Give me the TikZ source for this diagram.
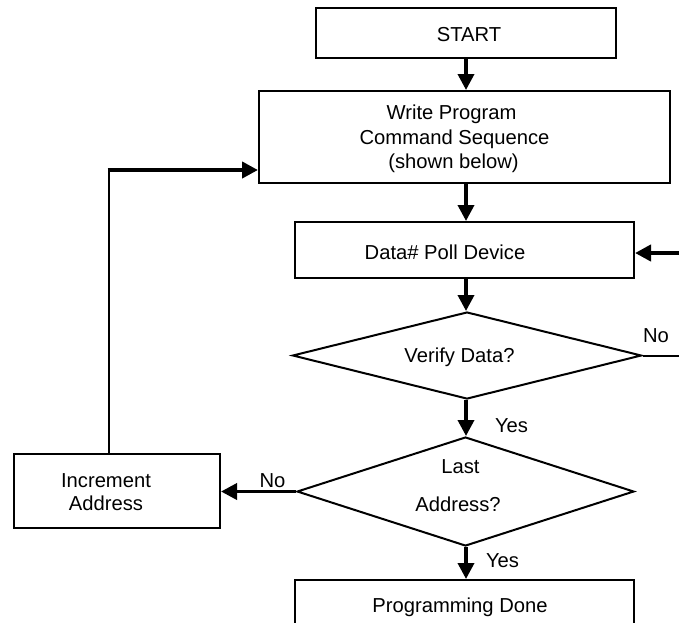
\documentclass[tikz,border=0pt]{standalone}
\usepackage{fontspec}
\setmainfont{Liberation Sans}
\usetikzlibrary{shapes.geometric,arrows.meta}
\begin{document}
\begin{tikzpicture}[x=1pt,y=-1pt,
  box/.style={draw=black, line width=2pt, rectangle, inner sep=0pt},
  dia/.style={draw=black, line width=2pt, diamond, inner sep=0pt},
  lbl/.style={anchor=base, inner sep=0pt, font=\fontsize{20.2}{24}\selectfont},
  arr/.style={line width=3.6pt, -{Triangle[length=16pt,width=16pt]}},
  arrthick/.style={line width=4.4pt, -{Triangle[length=16pt,width=16pt]}},
  conn/.style={line width=2pt},
  conn2/.style={line width=2.6pt}]
\clip (0,0) rectangle (679,622);
\fill[white] (0,0) rectangle (679,622);

% shapes
\node[box, minimum width=300pt, minimum height=50pt] (start) at (466,33) {};
\node[box, minimum width=411pt, minimum height=92pt] (write) at (464.5,137) {};
\node[box, minimum width=339pt, minimum height=56pt] (poll) at (464.5,250) {};
\node[dia, minimum width=349pt, minimum height=87pt] (verify) at (467,355.5) {};
\node[dia, minimum width=337pt, minimum height=109pt] (last) at (465.5,491.5) {};
\node[box, minimum width=206pt, minimum height=74pt] (inc) at (117,491) {};
\node[box, minimum width=339pt, minimum height=56pt] (done) at (464.5,608) {};

% texts
\node[lbl] (tstart) at (469,41) {START};
\node[lbl] (tw1) at (451.5,119) {Write Program};
\node[lbl] (tw2) at (454.5,144) {Command Sequence};
\node[lbl] (tw3) at (453.5,168) {(shown below)};
\node[lbl] (tpoll) at (445,259) {Data\# Poll Device};
\node[lbl] (tverify) at (459.5,362) {Verify Data?};
\node[lbl] (tlast1) at (460.5,473) {Last};
\node[lbl] (tlast2) at (458,511) {Address?};
\node[lbl] (tinc1) at (106,487) {Increment};
\node[lbl] (tinc2) at (106,510) {Address};
\node[lbl] (tdone) at (460,612) {Programming Done};
\node[lbl] (yes1) at (511.5,432) {Yes};
\node[lbl] (yes2) at (502.5,567) {Yes};
\node[lbl] (no1) at (272.5,487) {No};
\node[lbl] (no2) at (656,342) {No};

% connectors
\coordinate (col) at (466,0);
\draw[arr] (start.south -| col) -- (write.north -| col);
\draw[arr] (write.south -| col) -- (poll.north -| col);
\draw[arr] (poll.south -| col) -- (verify.north -| col);
\draw[arr] (verify.south -| col) -- (last.north -| col);
\draw[arr] (last.south -| col) -- (done.north -| col);
\draw[arr] (last.west) -- (last.west -| inc.east);

\coordinate (corner) at (109,170);
\draw[conn2] (inc.north -| corner) -- (corner);
\draw[arrthick, shorten <=-1.3pt] (corner) -- (corner -| write.west);

\coordinate (redge1) at (679,253);
\coordinate (redge2) at (679,356);
\draw[arrthick] (redge1) -- (redge1 -| poll.east);
\draw[conn] (verify.east) -- (verify.east -| redge2);
\end{tikzpicture}
\end{document}
